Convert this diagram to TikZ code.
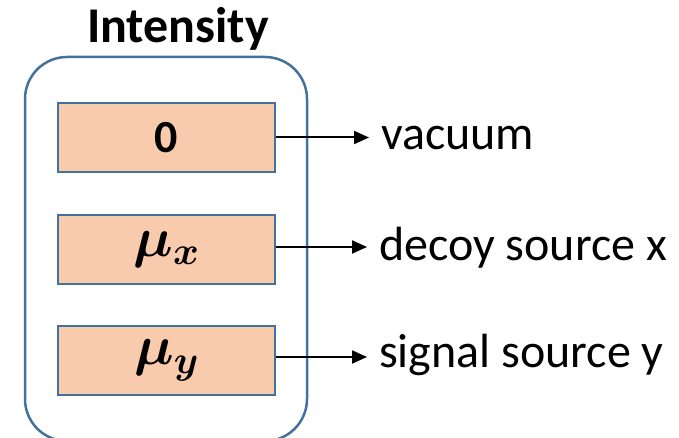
\RequirePackage{fix-cm}
\documentclass[tikz,border=0pt]{standalone}
\usepackage{amsmath,bm}
\usepackage{fontspec}
\setmainfont{Carlito}
\usetikzlibrary{arrows.meta}
\definecolor{boxfill}{HTML}{F8CBAD}
\definecolor{boxline}{HTML}{41719C}
\begin{document}
\begin{tikzpicture}[x=1pt,y=-1pt,
  lvl/.style={draw=boxline, line width=2pt, fill=boxfill, minimum width=217pt, minimum height=69pt, inner sep=0pt, font=\fontsize{46}{50}\selectfont\bfseries},
  mth/.style={font=\fontsize{56}{60}\selectfont},
  lab/.style={anchor=base west, inner sep=0pt, font=\fontsize{48}{52}\selectfont},
  arr/.style={line width=2pt, -{Triangle[length=15pt,width=13pt]}, shorten >=12pt}
]
\useasboundingbox (0,0) rectangle (679,438);
\clip (0,0) rectangle (679,438);
\node[draw=boxline, line width=2.5pt, rounded corners=42pt, minimum width=282pt, minimum height=384pt, inner sep=0pt] (frame) at (166,249) {};
\node[anchor=base, inner sep=0pt, font=\fontsize{50}{55}\selectfont\bfseries] (title) at (178,43) {Intensity};
\node[lvl] (b1) at (166.5,137.5) {0};
\node[lvl, mth] (b2) at (166.5,249.5) {$\bm{\mu}_{\bm{x}}$};
\node[lvl, mth] (b3) at (166.5,360.5) {$\bm{\mu}_{\bm{y}}$};
\node[lab] (t1) at (381,150) {vacuum};
\node[lab] (t2) at (379,260) {decoy source x};
\node[lab] (t3) at (379,367) {signal source y};
\draw[arr] (b1.east) -- (b1.east -| t1.west);
\draw[arr] ([yshift=2.5pt]b2.east) -- ([yshift=2.5pt]b2.east -| t2.west);
\draw[arr] ([yshift=3.5pt]b3.east) -- ([yshift=3.5pt]b3.east -| t3.west);
\end{tikzpicture}
\end{document}
